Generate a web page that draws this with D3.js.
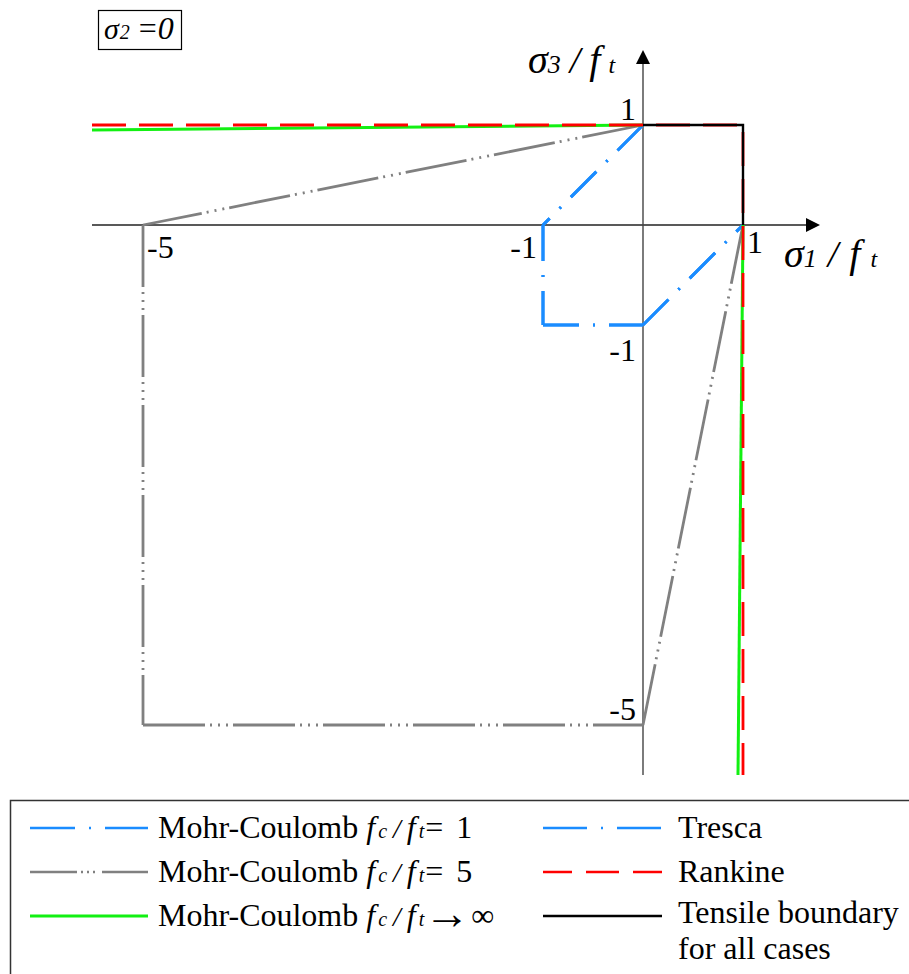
<!DOCTYPE html>
<html>
<head>
<meta charset="utf-8">
<script src="https://cdn.jsdelivr.net/npm/d3@7"></script>
<style>
  body { margin: 0; background: #fff; }
  svg { display: block; }
  text { font-family: "Liberation Serif", "Tinos", "Times New Roman", Times, "DejaVu Serif", serif; fill: #000; }
</style>
</head>
<body>
<svg id="chart" width="909" height="974" font-family="Liberation Serif, Times New Roman, serif"></svg>
<script>
// failure envelopes in the sigma1/ft - sigma3/ft plane (sigma2 = 0)
var mc1       = [[0, 1], [-1, 0], [-1, -1], [0, -1], [1, 0]];
var tresca    = [[0, 1], [-1, 0], [-1, -1], [0, -1], [1, 0]];
var mc5       = [[0, 1], [-5, 0], [-5, -5], [0, -5], [1, 0]];
var mcInfTop  = [[-5.51, 0.95], [0, 1]];
var mcInfSide = [[1, 0], [0.95, -5.5]];
var rankine   = [[-5.51, 1], [0, 1], [1, 1], [1, 0], [1, -5.5]];
var tensile   = [[0, 1], [1, 1], [1, 0]];

var xTicks = [-5, -1, 1];
var yTicks = [1, -1, -5];

var svg = d3.select('#chart');

var x = d3.scaleLinear().domain([-5.51, 1.77]).range([92, 820]);
var y = d3.scaleLinear().domain([-5.5, 1.75]).range([775, 50]);

var line = d3.line().x(function(d){ return x(d[0]); }).y(function(d){ return y(d[1]); });

// ---- axes
var axes = svg.append('g');
axes.append('line')
    .attr('x1', x(-5.51)).attr('x2', x(1.77) - 6)
    .attr('y1', y(0)).attr('y2', y(0))
    .attr('stroke', '#222').attr('stroke-width', 1.4);
axes.append('line')
    .attr('x1', x(0)).attr('x2', x(0))
    .attr('y1', y(-5.5)).attr('y2', y(1.75) + 6)
    .attr('stroke', '#444').attr('stroke-width', 1.4);
axes.append('path')
    .attr('d', 'M' + x(1.77) + ',' + y(0) + 'l-14,-7l0,14z')
    .attr('fill', '#000');
axes.append('path')
    .attr('d', 'M' + x(0) + ',' + y(1.75) + 'l-7,14l14,0z')
    .attr('fill', '#000');

// draw each segment on its own so the dash pattern restarts at every corner
function segmented(pts, color, dash, width) {
  var g = svg.append('g');
  d3.pairs(pts).forEach(function(p) {
    g.append('path')
      .attr('d', line(p))
      .attr('fill', 'none')
      .attr('stroke', color)
      .attr('stroke-width', width)
      .attr('stroke-dasharray', dash);
  });
}

segmented(mc5, '#808080', '62,5,2,6,2,6,2,5', 2.8);
segmented(tresca, '#1a8cff', '36,14,2,14', 3);
segmented(mc1, '#1a8cff', '36,14,2,14', 3);

[mcInfTop, mcInfSide].forEach(function(pts) {
  svg.append('path')
     .attr('d', line(pts))
     .attr('fill', 'none')
     .attr('stroke', '#12f012')
     .attr('stroke-width', 3);
});

svg.append('path')
   .attr('d', line(rankine))
   .attr('fill', 'none')
   .attr('stroke', '#ff0000')
   .attr('stroke-width', 2.8)
   .attr('stroke-dasharray', '34,13');

svg.append('path')
   .attr('d', line(tensile))
   .attr('fill', 'none')
   .attr('stroke', '#000')
   .attr('stroke-width', 2.4);

// ---- tick labels
var tl = svg.append('g').attr('font-size', 32);
xTicks.forEach(function(v) {
  var leftOfLine = v === -1;
  tl.append('text')
    .attr('x', x(v) + (leftOfLine ? -6 : 4))
    .attr('y', y(0) + (v > 0 ? 28 : 33))
    .attr('text-anchor', leftOfLine ? 'end' : 'start')
    .text(v < 0 ? '-' + Math.abs(v) : v);
});
yTicks.forEach(function(v) {
  var below = v === -1;
  tl.append('text')
    .attr('x', x(0) - 7)
    .attr('y', below ? y(v) + 36 : y(v) - 5)
    .attr('text-anchor', 'end')
    .text(v < 0 ? '-' + Math.abs(v) : v);
});

// ---- rich text helper: parts = [text, size, italic, dx, dy]
function rich(px, py, parts) {
  var t = svg.append('text').attr('x', px).attr('y', py);
  parts.forEach(function(p) {
    t.append('tspan')
     .attr('font-size', p[1])
     .attr('font-style', p[2] ? 'italic' : 'normal')
     .attr('dx', p[3] || 0)
     .attr('dy', p[4] || 0)
     .text(p[0]);
  });
  return t;
}

// axis titles
rich(528, 73, [['σ', 40, 1], ['3', 26, 1, 0, 0], ['/', 38, 1, 9], ['f', 40, 1, 9], ['t', 24, 1, 8]]);
rich(784, 267, [['σ', 40, 1], ['1', 26, 1, 0, 0], ['/', 38, 1, 11], ['f', 40, 1, 11], ['t', 24, 1, 10]]);

// sigma2 box
svg.append('rect')
   .attr('x', 98.5).attr('y', 10.5).attr('width', 83).attr('height', 39)
   .attr('fill', 'none').attr('stroke', '#000').attr('stroke-width', 1.2);
rich(104, 39, [['σ', 30, 1], ['2', 20, 1, 1, 0], ['=', 32, 0, 9], ['0', 32, 1, 1]]);

// ---- legend
svg.append('rect')
   .attr('x', 10.5).attr('y', 800.5).attr('width', 930).attr('height', 200)
   .attr('fill', 'none').attr('stroke', '#333').attr('stroke-width', 1.5);

var legendLeft = [
  {end: '= 1', color: '#1a8cff', dash: '45,14,2,14', w: 2.6},
  {end: '= 5', color: '#808080', dash: '47,4,2,4,2,4,2,7', w: 2.6},
  {end: '→∞', color: '#12f012', dash: null, w: 2.8}
];
var legendRight = [
  {label: 'Tresca', color: '#1a8cff', dash: '44,14,2,14', w: 2.6},
  {label: 'Rankine', color: '#ff0000', dash: '29,14,33,14', w: 2.6},
  {label: 'Tensile boundary', color: '#000', dash: null, w: 2.6}
];
var rowY = [828, 872, 916];

legendLeft.forEach(function(d, i) {
  svg.append('line')
     .attr('x1', 30).attr('x2', 148).attr('y1', rowY[i]).attr('y2', rowY[i])
     .attr('stroke', d.color).attr('stroke-width', d.w)
     .attr('stroke-dasharray', d.dash);
  var parts = [['Mohr-Coulomb', 32, 0], ['f', 32, 1, 8], ['c', 20, 1, 3], ['/', 28, 1, 6],
               ['f', 32, 1, 6], ['t', 20, 1, 3]];
  if (d.end === '→∞') parts.push(['→', 46, 0, 0, 3], ['∞', 32, 0, 1, -3]);
  else parts.push(['=', 32, 0, 1], [d.end.slice(2), 32, 0, 13]);
  rich(158, rowY[i] + 10, parts);
});

legendRight.forEach(function(d, i) {
  svg.append('line')
     .attr('x1', 543).attr('x2', 662).attr('y1', rowY[i]).attr('y2', rowY[i])
     .attr('stroke', d.color).attr('stroke-width', d.w)
     .attr('stroke-dasharray', d.dash);
  svg.append('text')
     .attr('x', 678).attr('y', rowY[i] + (i === 2 ? 7 : 10))
     .attr('font-size', 32)
     .text(d.label);
});
svg.append('text')
   .attr('x', 678).attr('y', 959)
   .attr('font-size', 32)
   .text('for all cases');
</script>
</body>
</html>
